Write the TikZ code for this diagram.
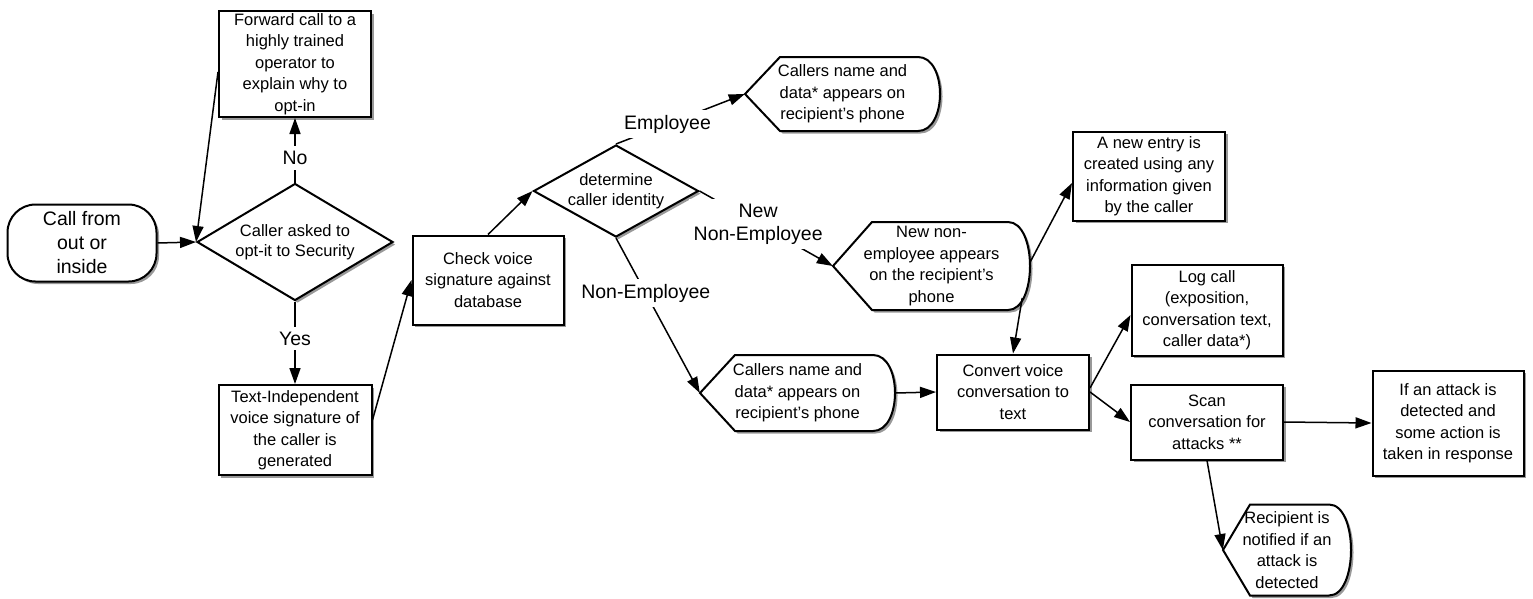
\documentclass[tikz,border=0pt]{standalone}
\usepackage{fontspec}
\setmainfont{Liberation Sans}
\usetikzlibrary{arrows.meta,shapes.geometric,shadows,calc}
\newcommand\dispnode[7]{%
  \path[dispshape] ({#2-#4/2},#3) -- ({#2-#4/2+#6},{#3-#5/2}) -- ({#2+#4/2-22},{#3-#5/2})
    .. controls ({#2+#4/2+22/3},{#3-#5/2}) and ({#2+#4/2+22/3},{#3+#5/2}) .. ({#2+#4/2-22},{#3+#5/2})
    -- ({#2-#4/2+#6},{#3+#5/2}) -- cycle;
  \node[disptext,minimum width=#4,minimum height=#5] (#1) at (#2,#3) {#7};
}
\begin{document}
\begin{tikzpicture}[x=1pt,y=-1pt,
  shad/.style={drop shadow={shadow xshift=2.5pt,shadow yshift=-2.5pt,opacity=0.4,fill=black}},
  box/.style={draw=black,line width=2pt,fill=white,shad,rectangle,inner sep=0pt,align=center,font=\fontsize{16.5}{21.5}\selectfont},
  dia/.style={draw=black,line width=2pt,fill=white,shad,diamond,inner sep=0pt,align=center,font=\fontsize{16.5}{20}\selectfont},
  startbox/.style={box,rounded corners=28pt,font=\fontsize{19.5}{24}\selectfont},
  disptext/.style={rectangle,inner sep=0pt,align=center,font=\fontsize{16.5}{21.5}\selectfont},
  dispshape/.style={draw=black,line width=2pt,fill=white,shad},
  conn/.style={draw=black,line width=1.5pt,-{Triangle[length=16pt,width=11pt]}},
  lbl/.style={fill=white,inner sep=5pt,align=center,font=\fontsize{19.5}{23}\selectfont},
]
\fill[white] (0,0) rectangle (1533,598);
\useasboundingbox (0,0) rectangle (1533,598);

\node[startbox,minimum width=149pt,minimum height=77pt] (call) at (82,243) {Call from\\out or\\inside};
\node[dia,minimum width=196pt,minimum height=117pt,aspect=1.675] (cas) at (295,242) {Caller asked to\\opt-it to Security};
\node[box,minimum width=152pt,minimum height=106pt] (fwd) at (295,64) {Forward call to a\\highly trained\\operator to\\explain why to\\opt-in};
\node[box,minimum width=153pt,minimum height=90pt] (tiv) at (295,430) {Text-Independent\\voice signature of\\the caller is\\generated};
\node[box,minimum width=151pt,minimum height=89pt] (chk) at (488,280) {Check voice\\signature against\\database};
\node[dia,minimum width=165pt,minimum height=92pt,aspect=1.79] (det) at (616,191) {determine\\caller identity};
\dispnode{emp}{842.5}{94}{195}{74}{35}{Callers name and\\data* appears on\\recipient’s phone}
\dispnode{nne}{931.5}{266}{197}{88}{39}{New non-\\employee appears\\on the recipient’s\\phone}
\dispnode{non}{797.5}{393}{195}{76}{35}{Callers name and\\data* appears on\\recipient’s phone}
\node[box,minimum width=152pt,minimum height=89pt] (nen) at (1149,176) {A new entry is\\created using any\\information given\\by the caller};
\node[box,minimum width=152pt,minimum height=75pt] (conv) at (1013,392) {Convert voice\\conversation to\\text};
\node[box,minimum width=151pt,minimum height=91pt] (log) at (1207,310) {Log call\\(exposition,\\conversation text,\\caller data*)};
\node[box,minimum width=152pt,minimum height=75pt] (scan) at (1207,422) {Scan\\conversation for\\attacks **};
\node[box,minimum width=151pt,minimum height=105pt] (att) at (1448,423) {If an attack is\\detected and\\some action is\\taken in response};
\dispnode{rec}{1287}{550}{128}{91}{27}{Recipient is\\notified if an\\attack is\\detected}

\draw[conn] (call.east) -- (cas.west);
\draw[conn] (cas.north) -- node[lbl,pos=0.38]{No} (fwd.south);
\draw[conn] ([yshift=-8pt]fwd.west) -- (cas.west);
\draw[conn] (cas.south) -- node[lbl,pos=0.45]{Yes} (tiv.north);
\draw[conn] ([yshift=10pt]tiv.east) -- (chk.west);
\draw[conn] (chk.north) -- (det.west);
\draw[conn] (det.north) -- node[lbl,pos=0.40]{Employee} (emp.west);
\draw[conn] (det.east) -- node[lbl,pos=0.44]{New\\Non-Employee} (nne.west);
\draw[conn] (det.south) -- node[lbl,pos=0.355]{Non-Employee} (non.west);
\draw[conn] (non.east) -- (conv.west);
\draw[conn] ([yshift=4pt]nne.east) -- ([yshift=-7pt]nen.west);
\draw[conn] ([shift={(-8pt,-32pt)}]nne.east) -- (conv.north);
\draw[conn] ([yshift=4pt]conv.east) -- ([yshift=-5pt]log.west);
\draw[conn] (conv.east) -- (scan.west);
\draw[conn] (scan.east) -- (att.west);
\draw[conn] (scan.south) -- (rec.west);
\end{tikzpicture}
\end{document}
